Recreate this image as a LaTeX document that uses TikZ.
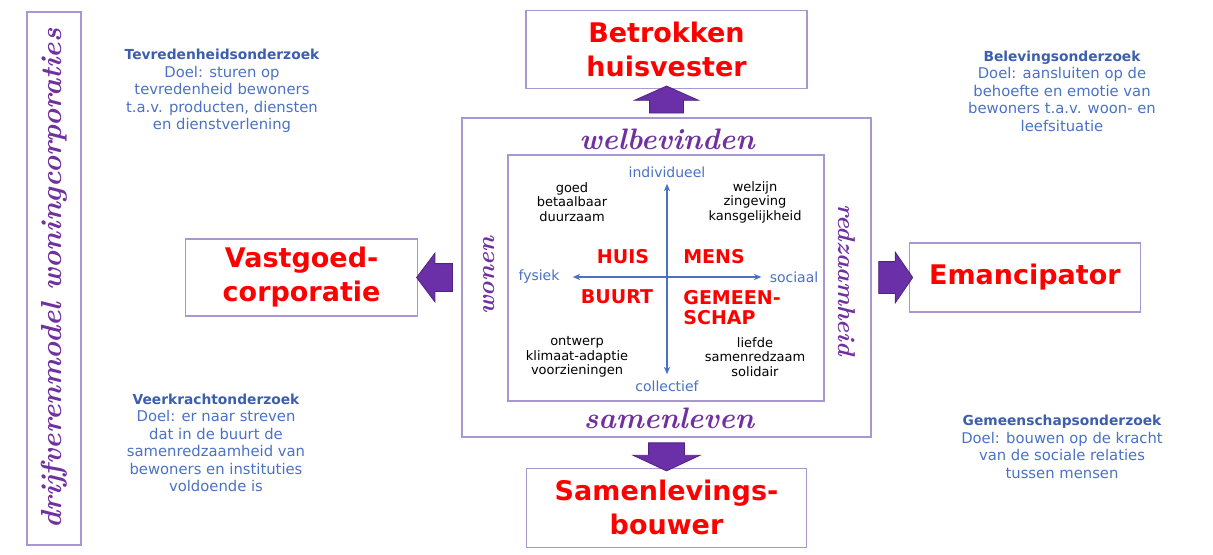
\documentclass[tikz,border=0pt]{standalone}
\usepackage{fontspec}
\newfontfamily\dvsans{DejaVu Sans}
\usetikzlibrary{arrows.meta,positioning,shapes.arrows,calc}
\definecolor{hwpurple}{HTML}{7030A0}
\definecolor{rolered}{HTML}{FF0000}
\definecolor{framelav}{HTML}{A897D0}
\definecolor{noteblue}{HTML}{4A72C4}
\definecolor{headblue}{HTML}{3C5EAE}
\definecolor{arrowfill}{HTML}{6B2FA8}
\tikzset{
  frame/.style     ={draw=framelav,line width=0.7pt,fill=white,inner sep=0pt},
  role/.style      ={frame,align=center,text=rolered,
                     font=\dvsans\bfseries\fontsize{13.5}{17}\selectfont},
  hand/.style      ={text=hwpurple,inner sep=0pt,font=\bfseries\itshape\fontsize{14.8}{18}\selectfont},
  research/.style  ={align=center,text=noteblue,inner sep=0pt,
                     font=\dvsans\fontsize{7.4}{8.75}\selectfont},
  quadlist/.style  ={align=center,inner sep=0pt,font=\dvsans\fontsize{6.5}{7.3}\selectfont},
  quadname/.style  ={align=left,text=rolered,inner sep=0pt,
                     font=\dvsans\bfseries\fontsize{9.5}{10}\selectfont},
  axislabel/.style ={text=noteblue,inner sep=1pt,font=\dvsans\fontsize{7}{8}\selectfont},
  axis/.style      ={{Stealth[length=1.3mm,width=1.1mm]}-{Stealth[length=1.3mm,width=1.1mm]},
                     line width=0.7pt,draw=noteblue},
  blockarrow/.style={single arrow,draw=arrowfill!75!black,line width=0.4pt,fill=arrowfill,
                     inner xsep=0pt}
}
\newcommand{\notehead}[1]{{\color{headblue}\bfseries\fontsize{6.9}{8.75}\selectfont #1}}

\begin{document}
\begin{tikzpicture}[x=0.5pt,y=-0.5pt]
  \useasboundingbox (0,0) rectangle (1213,554);
  % vertical title
  \node[frame,rotate=90,minimum width=266.5pt,minimum height=27pt,text=hwpurple,
        font=\bfseries\itshape\fontsize{14.5}{17}\selectfont] (driver) at (54,278.5)
        {drijfverenmodel woningcorporaties};
  % central model
  \node[frame,minimum width=204.5pt,minimum height=159.5pt] (model) at (666.5,277.5) {};
  \node[frame,minimum width=158pt,minimum height=123pt] (quad) at (666,278) {};
  \node[hand] (welbevinden) at (667,139) {welbevinden};
  \node[hand] (samenleven) at (669,418) {samenleven};
  \node[hand,rotate=90,font=\bfseries\itshape\fontsize{12.2}{14}\selectfont] (wonen) at (489,276) {wonen};
  \node[hand,rotate=-90,font=\bfseries\itshape\fontsize{12.2}{14}\selectfont] (redzaamheid) at (847,280) {redzaamheid};
  % axes
  \node[axislabel] (individueel) at (667,172) {individueel};
  \node[axislabel] (collectief) at (667,386) {collectief};
  \node[axislabel] (fysiek) at (539,277) {fysiek};
  \node[axislabel] (sociaal) at (794,277) {sociaal};
  \draw[axis,shorten <=2pt,shorten >=2pt] (individueel.south) -- (collectief.north);
  \draw[axis,shorten <=5.5pt,shorten >=3pt] (fysiek.east) -- (sociaal.west);
  % quadrants
  \node[quadname] (huis) at (623,257) {HUIS};
  \node[quadname] (mens) at (714,257) {MENS};
  \node[quadname] (buurt) at (617,297) {BUURT};
  \node[quadname,anchor=north west] (gemeenschap) at (683,290) {GEMEEN-\\SCHAP};
  \node[quadlist] (huislist) at (572,202) {goed\\betaalbaar\\duurzaam};
  \node[quadlist] (menslist) at (755,202) {welzijn\\zingeving\\kansgelijkheid};
  \node[quadlist] (buurtlist) at (577,357) {ontwerp\\klimaat-adaptie\\voorzieningen};
  \node[quadlist] (gemlist) at (755,357) {liefde\\samenredzaam\\solidair};
  % roles
  \node[role,above=14pt of model,minimum width=140.5pt,minimum height=39pt] (huisvester)
       {Betrokken\\huisvester};
  \node[role,below=15pt of model,minimum width=140pt,minimum height=39.5pt] (samenleving)
       {Samenlevings-\\bouwer};
  \node[role,left=21.5pt of model,minimum width=116pt,minimum height=38.5pt] (vastgoed)
       {Vastgoed-\\corporatie};
  \node[role,right=18.5pt of model,minimum width=115.5pt,minimum height=34.5pt] (emancipator)
       {Emancipator};
  % block arrows
  \node[blockarrow,rotate=90,minimum height=13.5pt,minimum width=31.5pt,inner ysep=8.25pt,
        single arrow head extend=7.5pt,single arrow tip angle=132] (uparrow)
        at ($(model.north)!0.5!(huisvester.south)$) {};
  \node[blockarrow,rotate=-90,minimum height=14pt,minimum width=33pt,inner ysep=8.75pt,
        single arrow head extend=7.75pt,single arrow tip angle=130] (downarrow)
        at ($(model.south)!0.5!(samenleving.north)$) {};
  \node[blockarrow,rotate=180,minimum height=18pt,minimum width=24pt,inner ysep=6.75pt,
        single arrow head extend=5.25pt,single arrow tip angle=106] (leftarrow)
        at ($(model.west)!0.5!(vastgoed.east)$) {};
  \node[blockarrow,minimum height=17pt,minimum width=25pt,inner ysep=7.75pt,
        single arrow head extend=4.75pt,single arrow tip angle=111] (rightarrow)
        at ($(model.east)!0.5!(emancipator.west)$) {};
  % research notes
  \node[research] (tevredenheid) at (222,91)
       {\notehead{Tevredenheidsonderzoek}\\Doel: sturen op\\tevredenheid bewoners\\
        t.a.v. producten, diensten\\en dienstverlening};
  \node[research] (veerkracht) at (216,443)
       {\notehead{Veerkrachtonderzoek}\\Doel: er naar streven\\dat in de buurt de\\
        samenredzaamheid van\\bewoners en instituties\\voldoende is};
  \node[research] (beleving) at (1062,91)
       {\notehead{Belevingsonderzoek}\\Doel: aansluiten op de\\behoefte en emotie van\\
        bewoners t.a.v. woon- en\\leefsituatie};
  \node[research] (gemeenschapnote) at (1062,447)
       {\notehead{Gemeenschapsonderzoek}\\Doel: bouwen op de kracht\\van de sociale relaties\\
        tussen mensen};
\end{tikzpicture}
\end{document}
